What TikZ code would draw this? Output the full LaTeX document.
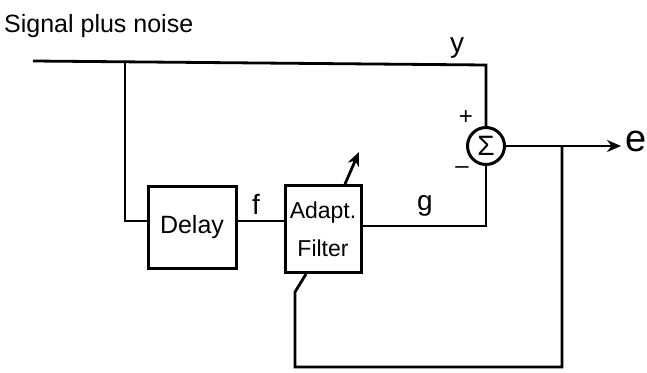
\documentclass[tikz,border=0pt]{standalone}
\usepackage{fontspec}
\setmainfont{Liberation Sans}
\usetikzlibrary{arrows.meta}
\begin{document}
\begin{tikzpicture}[x=1pt,y=-1pt,
  wire/.style={draw, line width=2.8pt},
  blk/.style={draw, line width=3pt, inner sep=0pt, align=center},
  lbl/.style={inner sep=0pt, font=\fontsize{28}{30}\selectfont},
  tip/.style={-{Stealth[length=14pt,width=12pt]}}]
\useasboundingbox (0,0) rectangle (647,372);
% texts
\node[lbl, anchor=base west, font=\fontsize{25}{28}\selectfont] (title) at (4,32) {Signal plus noise};
% blocks
\node[blk, minimum width=88pt, minimum height=82pt, font=\fontsize{25}{28}\selectfont] (delay) at (192,227) {Delay};
\node[blk, minimum width=76pt, minimum height=87pt, font=\fontsize{23}{38}\selectfont] (filt) at (323,229) {Adapt.\\Filter};
\node[circle, draw, line width=3pt, minimum size=37pt, inner sep=0pt, font=\fontsize{28}{30}\selectfont] (sum) at (486,146) {Σ};
% coordinates
\coordinate (in) at (33,61);
\coordinate (br) at (125,62);
\coordinate (yc) at (486,65);
\coordinate (dl) at (125,221);
\coordinate (gc) at (486,226);
\coordinate (fb) at (562,146);
\coordinate (eo) at (621,146);
\coordinate (fb1) at (562,367);
\coordinate (fb2) at (295,367);
\coordinate (fb3) at (295,292);
% connectors
\draw[wire] (in) -- (yc) -- (sum.north);
\draw[wire] (br) -- (dl) -- (dl -| delay.west);
\draw[wire] (delay.east |- dl) -- (filt.west |- dl);
\draw[wire] (filt.east |- gc) -- (gc) -- (sum.south);
\draw[wire, tip] (sum.east) -- (eo);
\draw[wire] (fb) -- (fb1) -- (fb2) -- (fb3) -- ([xshift=-17pt]filt.south);
\draw[wire, tip] ([xshift=22pt]filt.north) -- ++(14,-32) coordinate (adj);
% labels
\node[lbl] (ly) at (457,48) {y};
\node[lbl] (lf) at (256,204) {f};
\node[lbl] (lg) at (425,206) {g};
\node[lbl, font=\fontsize{38}{40}\selectfont] (le) at (636,141) {e};
\node[lbl, font=\fontsize{24}{26}\selectfont] (lp) at (466,118) {+};
\node[lbl, font=\fontsize{24}{26}\selectfont] (lm) at (462,170) {–};
\end{tikzpicture}
\end{document}
